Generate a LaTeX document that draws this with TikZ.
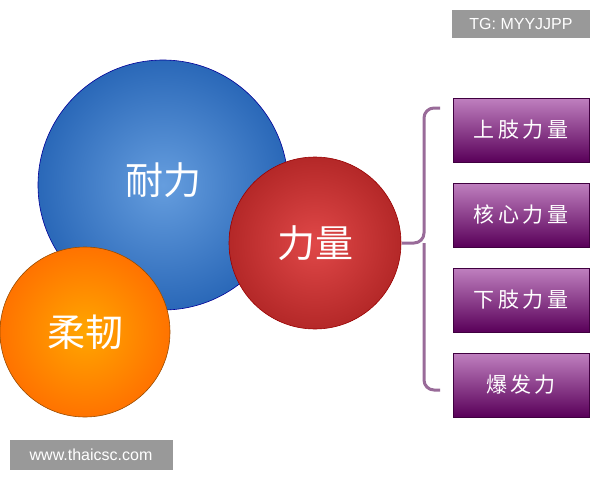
\documentclass[tikz,border=0pt]{standalone}
\usepackage{fontspec}
\setmainfont{Liberation Sans}
\newfontfamily\cjk{Noto Sans CJK SC}
\begin{document}
\begin{tikzpicture}[x=1pt,y=-1pt,
  ballb/.style={circle,draw=#1!60!black,line width=0.6pt,text=white,font=\cjk\fontsize{38}{42}\selectfont},
  pbox/.style={draw=violet!50!black,minimum width=136pt,minimum height=64pt,top color=violet!50!white,bottom color=violet!70!black,text=white,font=\cjk\fontsize{21}{24}\selectfont,inner sep=0pt},
  tag/.style={fill=black!40,text=white,font=\fontsize{16}{18}\selectfont,inner sep=0pt}]
\useasboundingbox (0,0) rectangle (600,480);
\fill[white] (0,0) rectangle (600,480);
\definecolor{bb}{HTML}{3F85D6}\definecolor{bbo}{HTML}{2A68B8}
\definecolor{rb}{HTML}{E04848}\definecolor{rbo}{HTML}{B42828}
\node[ballb=blue,minimum size=250pt,inner color=bb!80!white,outer color=bbo] (nl) at (163,185) {\raisebox{12pt}{耐力}};
\node[ballb=orange,minimum size=170pt,inner color=orange!70!yellow,outer color=orange!90!red] (rr) at (85,332) {柔韧};
\node[ballb=red,minimum size=172pt,inner color=rb,outer color=rbo] (ll) at (315,243) {力量};
\node[pbox] (b1) at (521,130) {上\,肢\,力\,量};
\node[pbox] (b2) at (521,215) {核\,心\,力\,量};
\node[pbox] (b3) at (521,300) {下\,肢\,力\,量};
\node[pbox] (b4) at (521,385) {爆\,发\,力};
\coordinate (tip) at (402,243);
\draw[violet!45!gray!80,line width=3pt,rounded corners=10pt]
  (440,108) -- (424,108) -- (424,243) -- (tip) (424,243) -- (424,390) -- (440,390);
\node[tag,minimum width=138pt,minimum height=28pt] (tg) at (521,24) {TG: MYYJJPP};
\node[tag,minimum width=163pt,minimum height=30pt] (www) at (91,455) {www.thaicsc.com};
\end{tikzpicture}
\end{document}
